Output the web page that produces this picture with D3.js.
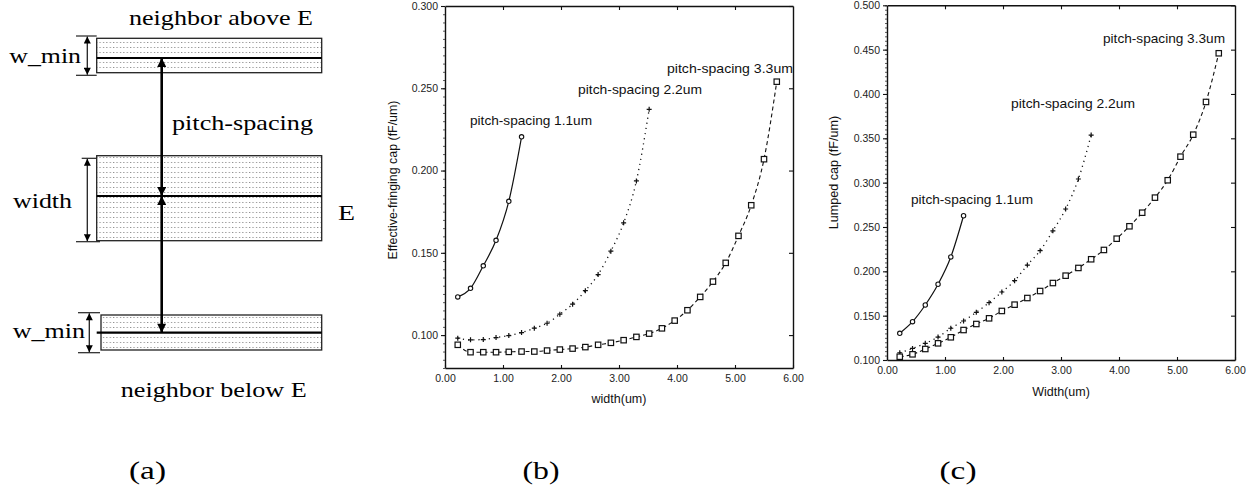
<!DOCTYPE html>
<html><head><meta charset="utf-8">
<script src="https://cdn.jsdelivr.net/npm/d3@7/dist/d3.min.js"></script>
<style>
body{margin:0;background:#fff;}
svg{display:block;}
.serif{font-family:"Liberation Serif","Times New Roman",Times,serif;}
.sans{font-family:"Liberation Sans",Arial,Helvetica,sans-serif;}
</style></head>
<body>
<svg id="chart" width="1254" height="491"></svg>
<script>
// ---------------- DATA ----------------
const widthsShort = [0.22, 0.44, 0.66, 0.88, 1.10, 1.32];
const widthsMid = [0.22,0.44,0.66,0.88,1.10,1.32,1.54,1.76,1.98,2.20,2.42,2.64,2.86,3.08,3.30,3.52];
const widthsLong = [0.22,0.44,0.66,0.88,1.10,1.32,1.54,1.76,1.98,2.20,2.42,2.64,2.86,3.08,3.30,3.52,3.74,3.96,4.18,4.40,4.62,4.84,5.06,5.28,5.50,5.72];

// (b) effective-fringing cap (fF/um)
const fringe11 = [0.1232,0.1284,0.1421,0.1576,0.1813,0.2205];
const fringe22 = [0.0981,0.0971,0.0973,0.0985,0.0997,0.1015,0.1042,0.1072,0.1127,0.1188,0.1270,0.1368,0.1510,0.1682,0.1937,0.2372];
const fringe33 = [0.0941,0.0896,0.0896,0.0896,0.0898,0.0900,0.0900,0.0906,0.0912,0.0918,0.0927,0.0941,0.0953,0.0969,0.0989,0.1009,0.1041,0.1088,0.1151,0.1232,0.1325,0.1439,0.1603,0.1789,0.2069,0.2540];

// (c) lumped cap (fF/um)
const lumped11 = [0.1301,0.1432,0.1620,0.1854,0.2162,0.2627];
const lumped22 = [0.1082,0.1130,0.1188,0.1259,0.1358,0.1440,0.1538,0.1646,0.1767,0.1894,0.2071,0.2233,0.2457,0.2703,0.3041,0.3537];
const lumped33 = [0.1037,0.1064,0.1124,0.1188,0.1256,0.1338,0.1406,0.1470,0.1553,0.1624,0.1699,0.1778,0.1868,0.1951,0.2038,0.2136,0.2241,0.2368,0.2508,0.2661,0.2831,0.3027,0.3293,0.3541,0.3910,0.4459];

const xTicks = [0,1,2,3,4,5,6];
const yTicksB = [0.10,0.15,0.20,0.25,0.30];
const yTicksC = [0.10,0.15,0.20,0.25,0.30,0.35,0.40,0.45,0.50];
const seriesLabels = ["pitch-spacing 1.1um","pitch-spacing 2.2um","pitch-spacing 3.3um"];
const captions = ["(a)","(b)","(c)"];

// ---------------- DRAW ----------------
const svg = d3.select("#chart");
svg.append("rect").attr("width",1254).attr("height",491).attr("fill","#fff");
const defs = svg.append("defs");
const pat = defs.append("pattern").attr("id","dots").attr("patternUnits","userSpaceOnUse")
  .attr("width",3.4).attr("height",5);
pat.append("rect").attr("width",3.4).attr("height",5).attr("fill","#fff");
pat.append("rect").attr("x",1).attr("y",2).attr("width",1).attr("height",1).attr("fill","#777");

function mk(id,w,h){
  const m = defs.append("marker").attr("id",id).attr("viewBox","0 0 10 10").attr("refX",10).attr("refY",5)
    .attr("markerUnits","userSpaceOnUse").attr("markerWidth",w).attr("markerHeight",h).attr("orient","auto-start-reverse");
  m.append("path").attr("d","M0,0L10,5L0,10Z").attr("fill","#000");
}
mk("bigArrow",13,9);
mk("smallArrow",10,7);

// ---------- panel (a) ----------
const A = svg.append("g");
function conductor(x0,x1,y0,y1,ym,lx0){
  A.append("rect").attr("x",x0).attr("y",y0).attr("width",x1-x0).attr("height",y1-y0)
    .attr("fill","url(#dots)").attr("stroke","#222").attr("stroke-width",1.3);
  A.append("line").attr("x1",lx0).attr("x2",x1).attr("y1",ym).attr("y2",ym).attr("stroke","#000").attr("stroke-width",2.2);
}
conductor(96.7,321.7,38.3,72.7,58,96.7);
conductor(96.7,321.7,155.7,240.7,196,96.7);
conductor(101,321.7,315,350,332.7,96.7);

function dim(x,y0,y1,t0a,t0b,t1a,t1b){
  A.append("line").attr("x1",t0a).attr("x2",t0b).attr("y1",y0).attr("y2",y0).attr("stroke","#222").attr("stroke-width",1.2);
  A.append("line").attr("x1",t1a).attr("x2",t1b).attr("y1",y1).attr("y2",y1).attr("stroke","#222").attr("stroke-width",1.2);
  A.append("line").attr("x1",x).attr("x2",x).attr("y1",y0+0.5).attr("y2",y1-0.5).attr("stroke","#222").attr("stroke-width",1.3)
    .attr("marker-start","url(#smallArrow)").attr("marker-end","url(#smallArrow)");
}
dim(87.3,36,75.3,76,96.7,76,96.7);
dim(87.3,158.3,241.7,81.7,96.7,76,100);
dim(89.3,312.7,352.7,78,100,78,100);

// pitch arrows
A.append("line").attr("x1",161.7).attr("x2",161.7).attr("y1",58).attr("y2",196).attr("stroke","#000").attr("stroke-width",2.6)
  .attr("marker-start","url(#bigArrow)").attr("marker-end","url(#bigArrow)");
A.append("line").attr("x1",161.7).attr("x2",161.7).attr("y1",196).attr("y2",332.7).attr("stroke","#000").attr("stroke-width",2.6)
  .attr("marker-start","url(#bigArrow)").attr("marker-end","url(#bigArrow)");

function stext(g,txt,x,y,size,len,anchor){
  const t = g.append("text").attr("class","serif").attr("x",x).attr("y",y).attr("font-size",size)
    .attr("fill","#000").text(txt);
  if(len){ t.attr("textLength",len).attr("lengthAdjust","spacingAndGlyphs"); }
  if(anchor) t.attr("text-anchor",anchor);
  return t;
}
stext(A,"neighbor above E",129,25,21,184);
stext(A,"w_min",9.3,63,21,71.7);
stext(A,"pitch-spacing",172,130,21,141);
stext(A,"width",13,208,21,59);
stext(A,"E",338,220,21,17);
stext(A,"w_min",12.7,338,21,72.3);
stext(A,"neighbor below E",120.7,397,21,186);

// ---------- chart panels ----------
function panel(cfg){
  const g = svg.append("g");
  const x = d3.scaleLinear().domain([0,6]).range([cfg.x0,cfg.x1]);
  const y = d3.scaleLinear().domain(cfg.yDomain).range([cfg.y1,cfg.y0]);

  // minor ticks on the left axis
  const minor = d3.range(cfg.yDomain[0], cfg.yDomain[1]+1e-9, 0.005);
  g.append("g").attr("transform",`translate(${cfg.x0},0)`)
    .call(d3.axisLeft(y).tickValues(minor).tickSize(2).tickFormat("").tickSizeOuter(0))
    .call(s=>{s.select(".domain").remove(); s.selectAll("line").attr("stroke","#333").attr("stroke-width",0.8);});

  const yAx = g.append("g").attr("transform",`translate(${cfg.x0},0)`)
    .call(d3.axisLeft(y).tickValues(cfg.yTicks).tickFormat(d3.format(".3f")).tickSize(4).tickPadding(3).tickSizeOuter(0));
  const yAxR = g.append("g").attr("transform",`translate(${cfg.x1},0)`)
    .call(d3.axisRight(y).tickValues(cfg.yTicks).tickFormat("").tickSize(-4).tickSizeOuter(0));
  const xAx = g.append("g").attr("transform",`translate(0,${cfg.y1})`)
    .call(d3.axisBottom(x).tickValues(xTicks).tickFormat(d3.format(".2f")).tickSize(-3).tickPadding(7).tickSizeOuter(0));
  const xAxT = g.append("g").attr("transform",`translate(0,${cfg.y0})`)
    .call(d3.axisTop(x).tickValues(xTicks.slice(1,-1)).tickFormat("").tickSize(-4).tickSizeOuter(0));
  [yAx,yAxR,xAx,xAxT].forEach(a=>{
    a.attr("font-family",null);
    a.select(".domain").attr("stroke","#111").attr("stroke-width",1.4);
    a.selectAll(".tick line").attr("stroke","#111").attr("stroke-width",1.1);
    a.selectAll("text").attr("class","sans").attr("font-size",10.5).attr("fill","#222");
  });

  // axis titles
  g.append("text").attr("class","sans").attr("transform",`translate(${cfg.ytX},${cfg.ytY}) rotate(-90)`).attr("text-anchor","middle")
    .attr("font-size",cfg.ytSize).attr("fill","#111").text(cfg.yTitle);
  g.append("text").attr("class","sans").attr("x",(cfg.x0+cfg.x1)/2).attr("y",cfg.xtY).attr("text-anchor","middle")
    .attr("font-size",12.5).attr("fill","#111").text(cfg.xTitle);

  const styles = [
    {dash:null, w:1.2, mark:"circle"},
    {dash:"1.2,4", w:1.3, mark:"plus"},
    {dash:"4,3", w:1.1, mark:"square"}
  ];
  const xsets = [widthsShort, widthsMid, widthsLong];
  cfg.series.forEach((vals,i)=>{
    const pts = vals.map((v,j)=>[xsets[i][j], v]);
    const line = d3.line().x(d=>x(d[0])).y(d=>y(d[1])).curve(d3.curveMonotoneX);
    const p = g.append("path").attr("d",line(pts)).attr("fill","none").attr("stroke","#111").attr("stroke-width",styles[i].w);
    if(styles[i].dash) p.attr("stroke-dasharray",styles[i].dash);
    const mg = g.append("g");
    pts.forEach(d=>{
      const px = x(d[0]), py = y(d[1]);
      if(styles[i].mark==="circle"){
        mg.append("circle").attr("cx",px).attr("cy",py).attr("r",2.2).attr("fill","#fff").attr("stroke","#111").attr("stroke-width",1.1);
      } else if(styles[i].mark==="plus"){
        mg.append("path").attr("d",`M${px-2.5},${py}H${px+2.5}M${px},${py-2.5}V${py+2.5}`).attr("stroke","#111").attr("stroke-width",1.2);
      } else {
        mg.append("rect").attr("x",px-2.7).attr("y",py-2.7).attr("width",5.4).attr("height",5.4).attr("fill","#fff").attr("stroke","#111").attr("stroke-width",1.2);
      }
    });
  });
  cfg.labels.forEach((l,i)=>{
    g.append("text").attr("class","sans").attr("x",l[0]).attr("y",l[1]).attr("font-size",13).attr("fill","#111")
      .text(seriesLabels[i]).attr("textLength",l[2]).attr("lengthAdjust","spacingAndGlyphs");
  });
  // caption
  stext(svg, cfg.caption, cfg.capX, 479, 26, 37, "middle");
}

panel({x0:445,x1:793,y0:6,y1:368,yDomain:[0.08,0.30],yTicks:yTicksB,
  series:[fringe11,fringe22,fringe33],
  yTitle:"Effective-fringing cap (fF/um)", ytX:397, ytY:180, ytSize:12.4,
  xTitle:"width(um)", xtY:403,
  labels:[[470,124.5,122],[578,93.5,124],[667,72.5,126]],
  caption:captions[1], capX:541});

panel({x0:887,x1:1235,y0:5.3,y1:360,yDomain:[0.10,0.50],yTicks:yTicksC,
  series:[lumped11,lumped22,lumped33],
  yTitle:"Lumped cap (fF/um)", ytX:838, ytY:172.5, ytSize:12.6,
  xTitle:"Width(um)", xtY:396,
  labels:[[911,203.5,122],[1011,107.5,124],[1103,42.5,122]],
  caption:captions[2], capX:958});

stext(svg, captions[0], 147.5, 479, 26, 37, "middle");
</script>
</body></html>
